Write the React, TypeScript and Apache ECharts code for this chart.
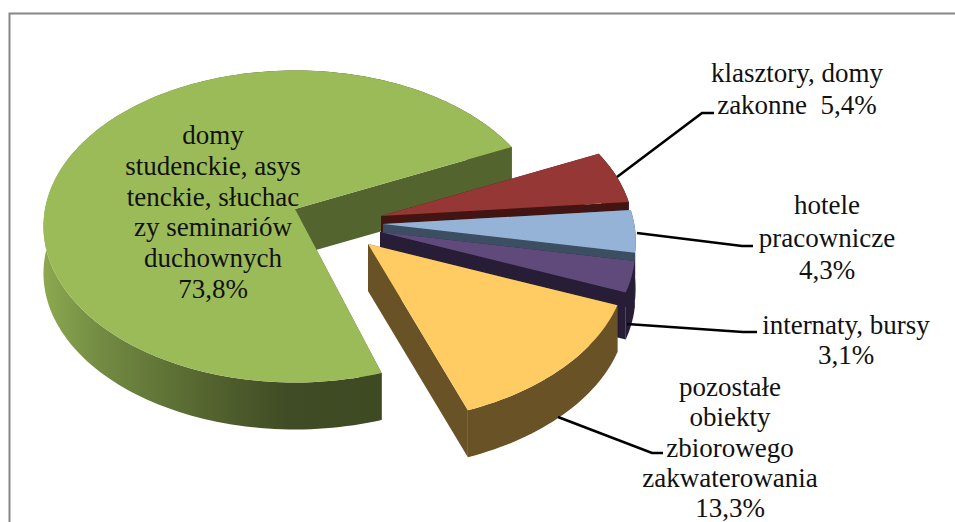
import React, { useEffect, useRef } from "react";
import * as echarts from "echarts";

const categories = [
  "domy studenckie, asystenckie, słuchaczy seminariów duchownych",
  "klasztory, domy zakonne",
  "hotele pracownicze",
  "internaty, bursy",
  "pozostałe obiekty zbiorowego zakwaterowania",
];
const values = [73.8, 5.4, 4.3, 3.1, 13.3];
const topColors = ["#9BBB59", "#953735", "#95B3D7", "#604A7B", "#FFCB63"];
const radialWallColors = ["#54642F", "#431512", "#3C4E62", "#271D36", "#6A5227"];
const outerWallColors = ["#3F4B24", "#431512", "#3C4E62", "#271D36", "#6A5227"];
const labelLines = [
  ["domy", "studenckie, asys", "tenckie, słuchac", "zy seminariów", "duchownych", "73,8%"],
  ["klasztory, domy", "zakonne  5,4%"],
  ["hotele", "pracownicze", "4,3%"],
  ["internaty, bursy", "3,1%"],
  ["pozostałe", "obiekty", "zbiorowego", "zakwaterowania", "13,3%"],
];

// Layout of the tilted pie (not data)
const START_ANGLE = -290.55;
const RX = 250;
const RATIO = 0.624;
const PERSPECTIVE = 0.112;
const DEPTH = 47;
const sliceApex = [
  [295, 209],
  [381, 216],
  [383, 224],
  [380, 232],
  [368, 244],
];
const radiusScale = [1.0, 1.005, 1.005, 1.015, 1.03];
const startNudge = [2.3, 0, 0, 0, 0];
const labelAnchor = [
  { x: 213, y: 135 },
  { x: 797, y: 73 },
  { x: 827, y: 205 },
  { x: 846, y: 325 },
  { x: 730, y: 387 },
];
const LINE_H = [30.8, 32, 32.5, 30, 30.3];
const leaders = [
  [[617, 177], [702, 113], [714, 113]],
  [[637, 233], [742, 246], [753, 246]],
  [[627, 324], [743, 332], [757, 332]],
  [[558, 417], [652, 453], [663, 453]],
];

const total = values.reduce((a, b) => a + b, 0);
const rad = (d: number) => (d * Math.PI) / 180;

function rimPoint(i: number, deg: number): number[] {
  const t = rad(deg);
  const s = (1 + PERSPECTIVE * Math.sin(t)) * radiusScale[i];
  return [
    sliceApex[i][0] + RX * Math.cos(t) * s,
    sliceApex[i][1] + RX * RATIO * Math.sin(t) * s,
  ];
}

function sliceAngles(i: number): number[] {
  const before = values.slice(0, i).reduce((a, b) => a + b, 0);
  const scale = (v: number) => echarts.number.linearMap(v, [0, total], [0, 360]);
  return [START_ANGLE + scale(before) + startNudge[i], START_ANGLE + scale(before + values[i])];
}

function renderItem(params: any, api: any) {
  const i = params.dataIndex;
  const [a0, a1] = sliceAngles(i);
  const steps = Math.max(6, Math.ceil((a1 - a0) / 1.5));
  const rim: number[][] = [];
  for (let k = 0; k <= steps; k++) rim.push(rimPoint(i, a0 + ((a1 - a0) * k) / steps));
  const apex = sliceApex[i];
  const down = (p: number[]) => [p[0], p[1] + DEPTH];
  const first = rim[0];
  const last = rim[rim.length - 1];
  const poly = (pts: number[][], fill: any) => ({
    type: "polygon",
    shape: { points: pts },
    style: { fill, lineWidth: 0 },
  });
  const outerFill =
    i === 0
      ? new echarts.graphic.LinearGradient(
          41,
          0,
          381,
          0,
          [
            { offset: 0, color: "#8DAA50" },
            { offset: 0.17, color: "#738C43" },
            { offset: 0.47, color: "#566630" },
            { offset: 0.72, color: "#404C25" },
            { offset: 1, color: "#3E4A22" },
          ],
          true
        )
      : outerWallColors[i];
  const children = [
    poly([apex, first, down(first), down(apex)], radialWallColors[i]),
    poly([...rim, ...rim.map(down).reverse()], outerFill),
    poly([apex, last, down(last), down(apex)], radialWallColors[i]),
    poly([apex, ...rim], topColors[i]),
  ];
  return { type: "group", children };
}

const textElements = labelLines.flatMap((lines, i) =>
  lines.map((line, k) => ({
    type: "text",
    z: 10,
    x: labelAnchor[i].x,
    y: labelAnchor[i].y + LINE_H[i] * k,
    style: {
      text: line,
      fontFamily: "Liberation Serif",
      fontSize: 27,
      fill: "#111111",
      align: "center",
      verticalAlign: "middle",
    },
  }))
);

const leaderElements = leaders.map((points) => ({
  type: "polyline",
  z: 9,
  shape: { points },
  style: { stroke: "#000000", lineWidth: 2.6, fill: "none" },
}));

export default function App() {
  const ref = useRef<HTMLDivElement>(null);
  useEffect(() => {
    const chart = echarts.init(ref.current!, null, { renderer: "svg" });
    chart.setOption({
      animation: false,
      backgroundColor: "#ffffff",
      series: [
        {
          type: "custom",
          coordinateSystem: "none",
          renderItem,
          silent: true,
          data: categories.map((name, i) => ({ name, value: values[i] })),
        },
      ],
      graphic: {
        elements: [
          {
            type: "rect",
            z: 1,
            shape: { x: 9.5, y: 13.5, width: 960, height: 540 },
            style: { fill: "none", stroke: "#868686", lineWidth: 2 },
          },
          ...leaderElements,
          ...textElements,
        ],
      },
    });
    return () => chart.dispose();
  }, []);
  return (
    <div
      ref={ref}
      style={{ position: "absolute", left: 0, top: 0, width: 955, height: 522 }}
    />
  );
}
